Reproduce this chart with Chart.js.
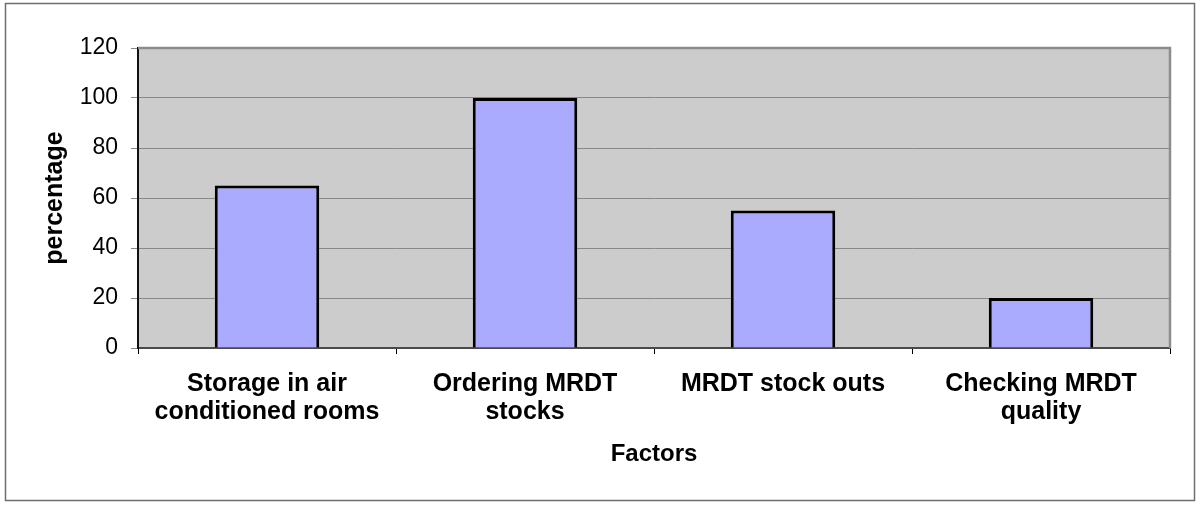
<!DOCTYPE html>
<html>
<head>
<meta charset="utf-8">
<script src="https://cdn.jsdelivr.net/npm/chart.js@4.4.1/dist/chart.umd.min.js"></script>
<style>
  html, body { margin: 0; padding: 0; background: #ffffff; }
  canvas { display: block; }
</style>
</head>
<body>
<canvas id="c" width="1200" height="506"></canvas>
<script>
const categories = [
  ["Storage in air", "conditioned rooms"],
  ["Ordering MRDT", "stocks"],
  "MRDT stock outs",
  ["Checking MRDT", "quality"]
];
const percentages = [65, 100, 55, 20];
const yTicks = [0, 20, 40, 60, 80, 100, 120];
const xTitle = "Factors";
const yTitle = "percentage";

const frame = {
  id: 'frame',
  beforeDraw(chart) {
    const { ctx, chartArea: a } = chart;
    ctx.save();
    ctx.fillStyle = '#ffffff';
    ctx.fillRect(0, 0, chart.width, chart.height);
    ctx.strokeStyle = '#6e6e6e';
    ctx.lineWidth = 1.5;
    ctx.strokeRect(5.5, 3.5, 1189, 497);
    ctx.fillStyle = '#cccccc';
    ctx.fillRect(a.left, a.top, a.right - a.left, a.bottom - a.top);
    ctx.restore();
  },
  afterDraw(chart) {
    const { ctx, chartArea: a } = chart;
    ctx.save();
    ctx.strokeStyle = '#8c8c8c';
    ctx.lineWidth = 2.5;
    ctx.beginPath();
    ctx.moveTo(a.left, a.top);
    ctx.lineTo(a.right, a.top);
    ctx.lineTo(a.right, a.bottom);
    ctx.stroke();
    ctx.restore();
  }
};

new Chart(document.getElementById('c'), {
  type: 'bar',
  data: {
    labels: categories,
    datasets: [{
      data: percentages,
      backgroundColor: '#aaaaff',
      borderColor: '#000000',
      borderWidth: 3,
      categoryPercentage: 1,
      barPercentage: 0.405
    }]
  },
  options: {
    responsive: false,
    animation: false,
    devicePixelRatio: 1,
    layout: { padding: { top: 48, right: 30, left: 0, bottom: 0 } },
    plugins: { legend: { display: false }, tooltip: { enabled: false } },
    scales: {
      x: {
        afterFit(s) { s.height = 158; },
        grid: { offset: true, drawOnChartArea: false, tickLength: 6, color: '#000000', lineWidth: 1 },
        border: { color: '#4a4a4a', width: 2 },
        ticks: {
          color: '#000000',
          padding: 16,
          maxRotation: 0,
          autoSkip: false,
          font: { family: 'Liberation Sans, Arial, sans-serif', size: 25, weight: 'bold', lineHeight: 1.12 }
        },
        title: {
          display: true,
          text: xTitle,
          color: '#000000',
          padding: { top: 0, bottom: 37 },
          font: { family: 'Liberation Sans, Arial, sans-serif', size: 24, weight: 'bold' }
        }
      },
      y: {
        min: 0,
        max: 120,
        afterFit(s) { s.width = 138; },
        afterBuildTicks(s) { s.ticks = yTicks.map(v => ({ value: v })); },
        grid: { color: '#888888', lineWidth: 1, tickLength: 7 },
        border: { color: '#111111', width: 2 },
        ticks: {
          color: '#000000',
          padding: 13,
          font: { family: 'Liberation Sans, Arial, sans-serif', size: 23 }
        },
        title: {
          display: true,
          text: yTitle,
          color: '#000000',
          padding: { top: 40, bottom: 0 },
          font: { family: 'Liberation Sans, Arial, sans-serif', size: 25, weight: 'bold' }
        }
      }
    }
  },
  plugins: [frame]
});
</script>
</body>
</html>
